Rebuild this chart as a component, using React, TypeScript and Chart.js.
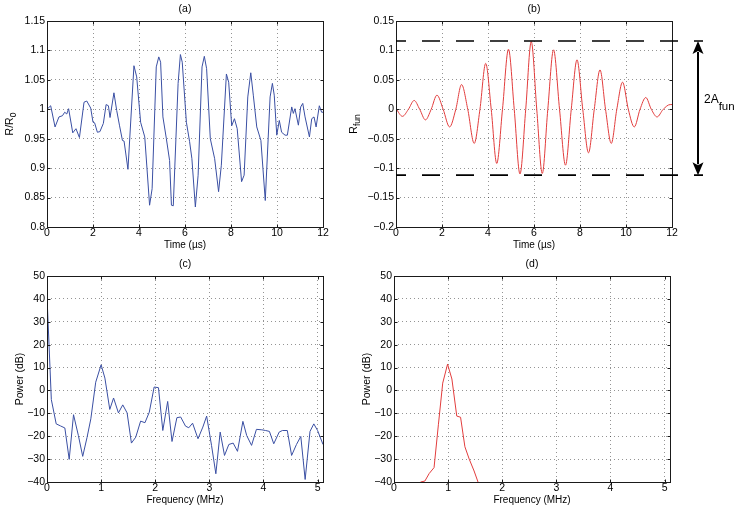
import React, { useEffect, useRef } from 'react';
import { Chart, registerables } from 'chart.js';

Chart.register(...registerables);

const PAGE_W = 737;
const PAGE_H = 509;
const FONT = "'Liberation Sans', Arial, Helvetica, sans-serif";
Chart.defaults.font.family = FONT;

// ---------- (a) measured resistance ratio R/R0 vs time (µs) ----------
const timeA = [0, 0.16, 0.35, 0.52, 0.67, 0.77, 0.86, 0.94, 1.12, 1.26, 1.41, 1.61, 1.73, 1.9, 2.0, 2.07, 2.19, 2.3, 2.45, 2.57, 2.67, 2.74, 2.91, 3.03, 3.15, 3.28, 3.35, 3.52, 3.78, 3.9, 4.07, 4.25, 4.46, 4.57, 4.75, 4.86, 4.94, 5.04, 5.19, 5.33, 5.41, 5.49, 5.7, 5.8, 5.88, 6.06, 6.2, 6.3, 6.45, 6.57, 6.74, 6.84, 6.94, 7.1, 7.29, 7.46, 7.58, 7.8, 7.9, 8.03, 8.15, 8.27, 8.46, 8.57, 8.73, 8.86, 8.97, 9.12, 9.3, 9.49, 9.7, 9.8, 9.88, 9.99, 10.1, 10.2, 10.35, 10.45, 10.64, 10.71, 10.78, 10.93, 11.03, 11.12, 11.22, 11.41, 11.51, 11.61, 11.7, 11.84, 11.94, 12];
const ratioA = [1.0, 1.006, 0.97, 0.987, 0.989, 0.995, 0.992, 1.001, 0.96, 0.967, 0.952, 1.012, 1.014, 1.002, 0.978, 0.977, 0.961, 0.962, 0.976, 1.008, 1.006, 0.986, 1.028, 0.998, 0.973, 0.947, 0.946, 0.898, 1.074, 1.055, 0.978, 0.953, 0.837, 0.865, 1.072, 1.089, 1.08, 0.987, 0.95, 0.913, 0.837, 0.836, 1.044, 1.093, 1.08, 0.978, 0.945, 0.916, 0.834, 0.888, 1.072, 1.09, 1.069, 0.95, 0.916, 0.86, 0.905, 1.06, 1.046, 0.972, 0.984, 0.967, 0.877, 0.888, 1.021, 1.062, 1.024, 0.97, 0.947, 0.845, 1.021, 1.044, 1.024, 0.956, 0.981, 0.961, 0.956, 0.956, 1.004, 0.993, 1.001, 0.973, 1.004, 1.01, 0.987, 0.953, 0.984, 0.987, 0.97, 1.006, 0.995, 0.995];

// ---------- (b) fundamental component R_fun vs time (µs) ----------
const timeB = [0, 0.28, 0.54, 0.79, 1.03, 1.28, 1.53, 1.78, 2.05, 2.33, 2.6, 2.85, 3.12, 3.4, 3.65, 3.9, 4.14, 4.38, 4.63, 4.89, 5.14, 5.39, 5.64, 5.88, 6.12, 6.36, 6.6, 6.85, 7.11, 7.37, 7.62, 7.87, 8.12, 8.37, 8.62, 8.87, 9.11, 9.36, 9.6, 9.85, 10.1, 10.36, 10.61, 10.86, 11.1, 11.35, 11.62, 11.92, 12];
const rFun = [0.001, -0.012, 0, 0.015, 0, -0.018, 0, 0.024, 0, -0.03, 0, 0.042, 0, -0.058, 0, 0.078, 0, -0.092, 0, 0.102, 0, -0.11, 0, 0.115, 0, -0.109, 0, 0.101, 0, -0.095, 0, 0.084, 0, -0.074, 0, 0.067, 0, -0.058, 0, 0.046, 0, -0.03, 0, 0.02, 0, -0.013, 0, 0.008, 0.008];
const AMPLITUDE_LEVELS = [0.116, -0.112];

// ---------- (c) power spectrum of (a) ----------
const freqC = [0, 0.08, 0.17, 0.25, 0.33, 0.41, 0.49, 0.58, 0.66, 0.74, 0.81, 0.9, 1.0, 1.07, 1.16, 1.23, 1.32, 1.4, 1.48, 1.56, 1.64, 1.73, 1.81, 1.89, 1.98, 2.06, 2.14, 2.23, 2.31, 2.4, 2.47, 2.56, 2.62, 2.69, 2.79, 2.88, 2.95, 3.04, 3.12, 3.2, 3.28, 3.36, 3.44, 3.52, 3.62, 3.69, 3.78, 3.87, 3.97, 4.04, 4.11, 4.19, 4.29, 4.35, 4.44, 4.52, 4.61, 4.69, 4.77, 4.86, 4.93, 5.0, 5.1];
const powerC = [41, -4, -14.6, -15.5, -16.4, -30.1, -10.6, -19.7, -28.8, -20.5, -12.4, 3.6, 11.2, 5.4, -8.3, -3.3, -9.8, -6.3, -9.8, -23, -20.4, -13.4, -14.1, -9.5, 1.5, 1.2, -17.5, -4.8, -22.3, -11.9, -11.6, -15.6, -16.3, -14.3, -21.1, -16.0, -11.2, -24, -36.4, -18.2, -28.4, -23.6, -23.0, -26.6, -13.5, -19.7, -24.0, -17.0, -17.2, -17.5, -17.9, -23.3, -18.2, -17.5, -17.5, -28.4, -23.6, -20.1, -38.9, -17.9, -14.6, -17.5, -23.6];

// ---------- (d) power spectrum of (b) ----------
const freqD = [0.41, 0.49, 0.57, 0.65, 0.74, 0.82, 0.9, 0.99, 1.07, 1.16, 1.23, 1.31, 1.39, 1.48, 1.56, 1.64];
const powerD = [-48, -40, -39.6, -36.3, -33.7, -15, 3.2, 11.5, 5, -11.2, -11.7, -24.6, -30, -35.2, -40.5, -48];

// ---------- ticks ----------
const TIME_TICKS = [0, 2, 4, 6, 8, 10, 12];
const RATIO_TICKS = [0.8, 0.85, 0.9, 0.95, 1, 1.05, 1.1, 1.15];
const RFUN_TICKS = [-0.2, -0.15, -0.1, -0.05, 0, 0.05, 0.1, 0.15];
const FREQ_TICKS = [0, 1, 2, 3, 4, 5];
const POWER_TICKS = [-40, -30, -20, -10, 0, 10, 20, 30, 40, 50];

const BLUE = '#3a4fa3';
const RED = '#e23d3d';
const GRID = 'rgba(0,0,0,0.42)';
const Y_W = 40;
const X_H = 20;

function fmt(v: number): string {
  const s = String(parseFloat(Math.abs(v).toFixed(2)));
  return v < 0 ? '\u2212' + s : s;
}

type Area = { left: number; top: number; right: number; bottom: number };
type Panel = {
  key: string;
  area: Area;
  xs: number[];
  ys: number[];
  color: string;
  smooth: boolean;
  xMin: number; xMax: number; xTicks: number[];
  yMin: number; yMax: number; yTicks: number[];
  title: string;
  xLabel: string;
  yLabel: string;
  ySub: string;
  yLabelGap: number;
  extras?: (chart: any) => void;
};

function drawAmplitudeMarks(chart: any) {
  const { ctx, chartArea: a } = chart;
  const ys = chart.scales.y;
  const [hi, lo] = AMPLITUDE_LEVELS.map((v) => ys.getPixelForValue(v));
  const xEnd = a.right + 31;
  ctx.save();
  ctx.strokeStyle = '#000';
  ctx.fillStyle = '#000';
  ctx.lineWidth = 1.7;
  ctx.setLineDash([18, 16]);
  ctx.lineDashOffset = 8;
  for (const y of [hi, lo]) {
    ctx.beginPath();
    ctx.moveTo(a.left, y);
    ctx.lineTo(xEnd, y);
    ctx.stroke();
  }
  ctx.setLineDash([]);
  const ax = a.right + 26;
  const head = 13;
  const hw = 5.5;
  ctx.lineWidth = 2;
  ctx.beginPath();
  ctx.moveTo(ax, hi + head - 2);
  ctx.lineTo(ax, lo - head + 2);
  ctx.stroke();
  ctx.beginPath();
  ctx.moveTo(ax, hi);
  ctx.lineTo(ax - hw, hi + head);
  ctx.lineTo(ax, hi + head - 3);
  ctx.lineTo(ax + hw, hi + head);
  ctx.closePath();
  ctx.fill();
  ctx.beginPath();
  ctx.moveTo(ax, lo);
  ctx.lineTo(ax - hw, lo - head);
  ctx.lineTo(ax, lo - head + 3);
  ctx.lineTo(ax + hw, lo - head);
  ctx.closePath();
  ctx.fill();
  const mid = (hi + lo) / 2;
  ctx.font = `12px ${FONT}`;
  ctx.textAlign = 'left';
  ctx.textBaseline = 'alphabetic';
  ctx.fillText('2A', a.right + 32, mid - 5);
  const w = ctx.measureText('2A').width;
  ctx.font = `11.5px ${FONT}`;
  ctx.fillText('fun', a.right + 32 + w, mid + 1.5);
  ctx.restore();
}

const PANELS: Panel[] = [
  {
    key: 'a', area: { left: 47, top: 21, right: 323, bottom: 227 },
    xs: timeA, ys: ratioA, color: BLUE, smooth: false,
    xMin: 0, xMax: 12, xTicks: TIME_TICKS,
    yMin: 0.8, yMax: 1.15, yTicks: RATIO_TICKS,
    title: '(a)', xLabel: 'Time (\u00b5s)', yLabel: 'R/R', ySub: '0', yLabelGap: 37,
  },
  {
    key: 'b', area: { left: 396, top: 21, right: 672, bottom: 227 },
    xs: timeB, ys: rFun, color: RED, smooth: true,
    xMin: 0, xMax: 12, xTicks: TIME_TICKS,
    yMin: -0.2, yMax: 0.15, yTicks: RFUN_TICKS,
    title: '(b)', xLabel: 'Time (\u00b5s)', yLabel: 'R', ySub: 'fun', yLabelGap: 42,
    extras: drawAmplitudeMarks,
  },
  {
    key: 'c', area: { left: 47, top: 276, right: 323, bottom: 482 },
    xs: freqC, ys: powerC, color: BLUE, smooth: false,
    xMin: 0, xMax: 5.1, xTicks: FREQ_TICKS,
    yMin: -40, yMax: 50, yTicks: POWER_TICKS,
    title: '(c)', xLabel: 'Frequency (MHz)', yLabel: 'Power (dB)', ySub: '', yLabelGap: 27,
  },
  {
    key: 'd', area: { left: 394, top: 276, right: 670, bottom: 482 },
    xs: freqD, ys: powerD, color: RED, smooth: false,
    xMin: 0, xMax: 5.1, xTicks: FREQ_TICKS,
    yMin: -40, yMax: 50, yTicks: POWER_TICKS,
    title: '(d)', xLabel: 'Frequency (MHz)', yLabel: 'Power (dB)', ySub: '', yLabelGap: 27,
  },
];

function overlayPlugin(p: Panel) {
  return {
    id: 'overlay-' + p.key,
    afterDatasetsDraw(chart: any) {
      const { ctx, chartArea: a } = chart;
      const xs = chart.scales.x;
      const ys = chart.scales.y;
      const L = a.left + 0.5, R = a.right + 0.5, T = a.top + 0.5, B = a.bottom + 0.5;
      ctx.save();
      ctx.strokeStyle = '#1a1a1a';
      ctx.lineWidth = 1;
      ctx.strokeRect(L, T, R - L, B - T);
      const tl = 3;
      ctx.beginPath();
      for (const v of p.xTicks) {
        const px = Math.round(xs.getPixelForValue(v)) + 0.5;
        ctx.moveTo(px, B); ctx.lineTo(px, B - tl);
        ctx.moveTo(px, T); ctx.lineTo(px, T + tl);
      }
      for (const v of p.yTicks) {
        const py = Math.round(ys.getPixelForValue(v)) + 0.5;
        ctx.moveTo(L, py); ctx.lineTo(L + tl, py);
        ctx.moveTo(R, py); ctx.lineTo(R - tl, py);
      }
      ctx.stroke();
      ctx.restore();
      if (p.extras) p.extras(chart);
    },
    afterDraw(chart: any) {
      const { ctx, chartArea: a } = chart;
      const cx = (a.left + a.right) / 2;
      const cy = (a.top + a.bottom) / 2;
      ctx.save();
      ctx.fillStyle = '#000';
      ctx.textAlign = 'center';
      ctx.textBaseline = 'middle';
      ctx.font = `10.5px ${FONT}`;
      ctx.fillText(p.title, cx, a.top - 12);
      ctx.font = `10px ${FONT}`;
      ctx.fillText(p.xLabel, cx, a.bottom + 18);
      ctx.translate(a.left - p.yLabelGap, cy);
      ctx.rotate(-Math.PI / 2);
      const mainFont = `10.5px ${FONT}`;
      const subFont = `8.5px ${FONT}`;
      ctx.font = mainFont;
      const wm = ctx.measureText(p.yLabel).width;
      ctx.font = subFont;
      const ws = p.ySub ? ctx.measureText(p.ySub).width : 0;
      const start = -(wm + ws) / 2;
      ctx.textAlign = 'left';
      ctx.font = mainFont;
      ctx.fillText(p.yLabel, start, 0);
      if (p.ySub) {
        ctx.font = subFont;
        ctx.fillText(p.ySub, start + wm, 4);
      }
      ctx.restore();
    },
  };
}

function buildConfig(p: Panel): any {
  const tickFont = { family: FONT, size: 10.5 };
  return {
    type: 'line',
    data: {
      datasets: [
        {
          data: p.xs.map((x, i) => ({ x, y: p.ys[i] })),
          borderColor: p.color,
          borderWidth: 1,
          pointRadius: 0,
          fill: false,
          tension: 0,
          cubicInterpolationMode: p.smooth ? 'monotone' : 'default',
        },
      ],
    },
    options: {
      animation: false,
      responsive: false,
      maintainAspectRatio: false,
      events: [],
      layout: {
        padding: {
          left: p.area.left - Y_W,
          top: p.area.top,
          right: PAGE_W - p.area.right,
          bottom: PAGE_H - p.area.bottom - X_H,
        },
      },
      plugins: {
        legend: { display: false },
        tooltip: { enabled: false },
        title: { display: false },
      },
      scales: {
        x: {
          type: 'linear',
          min: p.xMin,
          max: p.xMax,
          afterBuildTicks: (s: any) => { s.ticks = p.xTicks.map((v) => ({ value: v })); },
          afterFit: (s: any) => { s.height = X_H; },
          grid: { drawTicks: false, color: GRID, lineWidth: 1 },
          border: { display: false, dash: [1, 3] },
          ticks: {
            padding: 0,
            font: tickFont,
            color: '#000',
            autoSkip: false,
            maxRotation: 0,
            callback: (v: any) => fmt(Number(v)),
          },
        },
        y: {
          type: 'linear',
          min: p.yMin,
          max: p.yMax,
          afterBuildTicks: (s: any) => { s.ticks = p.yTicks.map((v) => ({ value: v })); },
          afterFit: (s: any) => { s.width = Y_W; },
          grid: { drawTicks: false, color: GRID, lineWidth: 1 },
          border: { display: false, dash: [1, 3] },
          ticks: {
            padding: 2,
            font: tickFont,
            color: '#000',
            autoSkip: false,
            callback: (v: any) => fmt(Number(v)),
          },
        },
      },
    },
    plugins: [overlayPlugin(p)],
  };
}

function PanelCanvas({ panel }: { panel: Panel }) {
  const ref = useRef<HTMLCanvasElement>(null);
  useEffect(() => {
    if (!ref.current) return;
    const chart = new Chart(ref.current, buildConfig(panel));
    return () => chart.destroy();
  }, [panel]);
  return (
    <canvas
      ref={ref}
      width={PAGE_W}
      height={PAGE_H}
      style={{ position: 'absolute', left: 0, top: 0, width: PAGE_W, height: PAGE_H }}
    />
  );
}

export default function App() {
  return (
    <div
      style={{
        position: 'fixed',
        left: 0,
        top: 0,
        width: PAGE_W,
        height: PAGE_H,
        background: '#fff',
        overflow: 'hidden',
      }}
    >
      {PANELS.map((p) => (
        <PanelCanvas key={p.key} panel={p} />
      ))}
    </div>
  );
}
